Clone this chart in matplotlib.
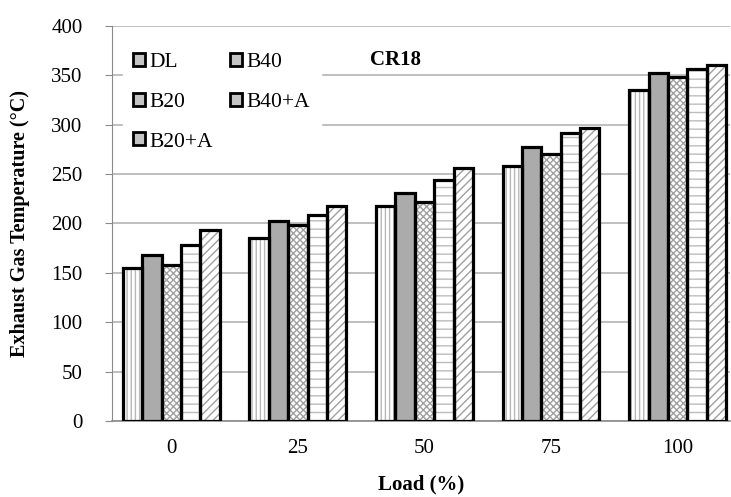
import numpy as np
import matplotlib.pyplot as plt
from matplotlib.patches import Patch

plt.rcParams['font.family'] = ['Liberation Serif', 'DejaVu Serif']
plt.rcParams['hatch.linewidth'] = 1.0

# Data
loads = ['0', '25', '50', '75', '100']
series = ['DL', 'B20', 'B20+A', 'B40', 'B40+A']
dl = [155, 185, 218, 258, 335]
b20 = [168, 202, 231, 277, 352]
b20a = [158, 198, 222, 270, 348]
b40 = [178, 208, 244, 292, 356]
b40a = [193, 218, 256, 297, 360]
values = [dl, b20, b20a, b40, b40a]

# bar styles: (face, hatch, hatch colour)
styles = [
    ('white', '||||', '#b8b8b8'),
    ('#ababab', None, '#ababab'),
    ('white', 'xxxxx', '#a0a0a0'),
    ('white', '--', '#bcbcbc'),
    ('white', '////', '#a0a0a0'),
]

fig = plt.figure(figsize=(7.31, 4.97), dpi=100)
ax = fig.add_axes([0.153, 0.153, 0.845, 0.795])

x = np.arange(len(loads))
w = 0.153
for i, (vals, (fc, hatch, hc)) in enumerate(zip(values, styles)):
    pos = x + (i - 2) * w
    ax.bar(pos, vals, w, color=fc, edgecolor=hc, hatch=hatch, linewidth=0, zorder=2)
    ax.bar(pos, vals, w, fill=False, edgecolor='black', linewidth=2.3, zorder=3)

ax.set_ylim(0, 400)
ax.set_yticks(range(0, 401, 50))
ax.set_xlim(-0.47, 4.41)
ax.set_xticks(x)
ax.set_xticklabels(loads)
ax.yaxis.grid(True, color='#b4b4b4', linewidth=1.2, zorder=0)
ax.set_axisbelow(True)

for s in ['top', 'right']:
    ax.spines[s].set_visible(False)
ax.spines['left'].set_color('#8a8a8a')
ax.spines['bottom'].set_color('#8a8a8a')
ax.spines['bottom'].set_linewidth(1.2)
ax.tick_params(axis='y', colors='#8a8a8a', labelcolor='black', labelsize=15, length=5,
               direction='out', pad=16)
ax.tick_params(axis='x', length=0, labelsize=15, pad=13)

ax.set_ylabel('Exhaust Gas Temperature (°C)', fontsize=14.5, fontweight='bold', labelpad=15)
ax.set_xlabel('Load (%)', fontsize=15, fontweight='bold', labelpad=12)

handles = [Patch(facecolor='#c4c4c4', edgecolor='black', linewidth=2.0) for _ in series]
leg = ax.legend(handles, series, ncol=2, loc='upper left', bbox_to_anchor=(0.0, 0.985),
                frameon=True, fontsize=15.5, handlelength=0.55, handleheight=0.55,
                handletextpad=0.2, columnspacing=0.8, labelspacing=0.95,
                borderpad=0.5, fancybox=False)
leg.get_frame().set_edgecolor('white')
leg.get_frame().set_facecolor('white')
leg.get_frame().set_alpha(1)
leg.set_zorder(5)

ax.text(1.77, 365, 'CR18', fontsize=15, fontweight='bold', ha='center', va='center', zorder=6)

fig.savefig('out.png', dpi=100)
